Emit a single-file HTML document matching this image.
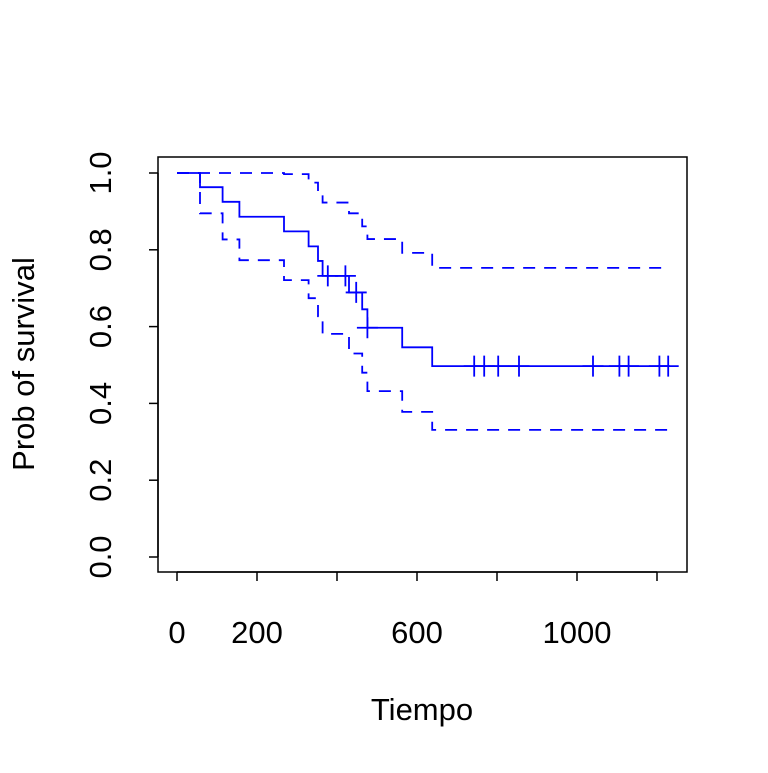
<!DOCTYPE html>
<html><head><meta charset="utf-8"><style>
html,body{margin:0;padding:0;background:#fff}
svg text{font-family:"Liberation Sans",Arial,sans-serif;font-size:31px;fill:#000}
</style></head><body>
<svg id="chart" width="768" height="768" viewBox="0 0 768 768">
<rect x="158" y="157" width="529" height="415" fill="none" stroke="#000" stroke-width="1.5"/>
<g id="axes"></g>
<g id="marks"></g>
<text x="422" y="720" text-anchor="middle">Tiempo</text>
<text transform="translate(34,364) rotate(-90)" text-anchor="middle">Prob of survival</text>
</svg>
<script>
const stepTimes = [0, 57.5, 114, 156, 267.5, 329, 352.5, 364, 430, 463, 476, 563, 638, 1228];
const survVals  = [1, 0.963, 0.925, 0.886, 0.848, 0.809, 0.771, 0.732, 0.689, 0.645, 0.597, 0.546, 0.497, 0.497];
const upperVals = [1, 1, 1, 1, 0.997, 0.975, 0.943, 0.923, 0.895, 0.861, 0.828, 0.792, 0.753, 0.753];
const lowerVals = [1, 0.895, 0.827, 0.773, 0.721, 0.674, 0.627, 0.581, 0.53, 0.48, 0.432, 0.378, 0.331, 0.331];
const censorTimes = [377, 421, 448, 476, 743, 768, 803, 855, 1040, 1106, 1129, 1206, 1228];
const xTicks = [0, 200, 400, 600, 800, 1000, 1200];
const xTickLabels = ["0", "200", "", "600", "", "1000", ""];
const yTicks = [0, 0.2, 0.4, 0.6, 0.8, 1.0];
const yTickLabels = ["0.0", "0.2", "0.4", "0.6", "0.8", "1.0"];

const X = t => 177 + t * 0.4;
const Y = p => 557 - p * 384;
const NS = "http://www.w3.org/2000/svg";
const axes = document.getElementById('axes');
const marks = document.getElementById('marks');
function mk(tag, attrs, parent) {
  const e = document.createElementNS(NS, tag);
  for (const k in attrs) e.setAttribute(k, attrs[k]);
  parent.appendChild(e);
  return e;
}
let xl = mk('line', {x1: X(xTicks[0]), x2: X(xTicks[xTicks.length-1]), y1: 572, y2: 572, stroke: '#000', 'stroke-width': 1.5}, axes);


xTicks.forEach((t, i) => {
  const tk = mk('line', {x1: X(t), x2: X(t), y1: 572, y2: 581, stroke: '#000', 'stroke-width': 1.5}, axes);
  
  
  if (xTickLabels[i]) {
    const tx = mk('text', {x: X(t), y: 643, 'text-anchor': 'middle'}, axes);
    tx.textContent = xTickLabels[i];
    
    
  }
});
let yl = mk('line', {x1: 158, x2: 158, y1: Y(0), y2: Y(1), stroke: '#000', 'stroke-width': 1.5}, axes);


yTicks.forEach((p, i) => {
  const tk = mk('line', {x1: 149, x2: 158, y1: Y(p), y2: Y(p), stroke: '#000', 'stroke-width': 1.5}, axes);
  
  
  const tx = mk('text', {transform: `translate(${111},${Y(p)}) rotate(-90)`, 'text-anchor': 'middle'}, axes);
  tx.textContent = yTickLabels[i];
  
  
});
function stepPath(vals) {
  let d = `M${X(stepTimes[0])},${Y(vals[0])}`;
  for (let i = 1; i < stepTimes.length; i++) {
    d += ` H${X(stepTimes[i])} V${Y(vals[i])}`;
  }
  return d;
}
const up = mk('path', {d: stepPath(upperVals), fill: 'none', stroke: '#0000ff', 'stroke-width': 1.8, 'stroke-dasharray': '12 9'}, marks);


const lo = mk('path', {d: stepPath(lowerVals), fill: 'none', stroke: '#0000ff', 'stroke-width': 1.8, 'stroke-dasharray': '12 9'}, marks);


const sv = mk('path', {d: stepPath(survVals), fill: 'none', stroke: '#0000ff', 'stroke-width': 1.8}, marks);


function survAt(t) {
  let s = survVals[0];
  for (let i = 0; i < stepTimes.length; i++) if (stepTimes[i] <= t) s = survVals[i];
  return s;
}
censorTimes.forEach(t => {
  const x = X(t), y = Y(survAt(t));
  const c = mk('path', {d: `M${x},${y-10.5} V${y+10.5} M${x-10.5},${y} H${x+10.5}`, stroke: '#0000ff', 'stroke-width': 1.8, fill: 'none'}, marks);
  
  
});
</script>
</body></html>
